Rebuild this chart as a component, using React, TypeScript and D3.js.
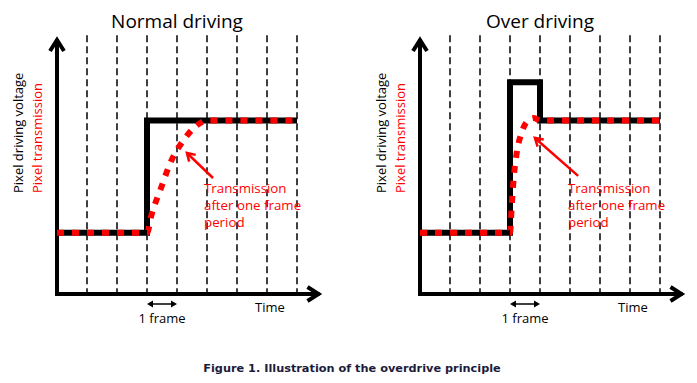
import React from 'react';
import * as d3 from 'd3';

type Pt = [number, number];

// gridline frame positions
const frameLines = [1, 2, 3, 4, 5, 6, 7, 8];
// voltage / transmission series (x in frames, y in % of axis height)
const normalVoltage: Pt[] = [[0, 24], [3, 24], [3, 68], [8, 68]];
const normalTransmission: Pt[] = [[0, 24], [3, 24], [3.15, 31], [3.45, 41], [3.8, 52], [4.2, 60], [4.6, 65.5], [5, 68], [8, 68]];
const overVoltage: Pt[] = [[0, 24], [3, 24], [3, 83], [4, 83], [4, 68], [8, 68]];
const overTransmission: Pt[] = [[0, 24], [3, 24], [3.06, 35], [3.12, 45], [3.22, 55], [3.38, 63], [3.6, 68], [3.8, 69], [4, 68], [8, 68]];
// annotation arrows [start, end]
const normalArrow: Pt[] = [[5.2, 45.5], [4.33, 55.3]];
const overArrow: Pt[] = [[5.27, 46.3], [3.83, 61.2]];
const annotationLines = ['Transmission', 'after one frame', 'period'];
const titles = ['Normal driving', 'Over driving'];
const yLabelBlack = 'Pixel driving voltage';
const yLabelRed = 'Pixel transmission';
const caption = 'Figure 1. Illustration of the overdrive principle';

const FONT = '"Open Sans", sans-serif';
const RED = '#ff0000';

interface PanelProps {
  axisX: number;
  title: string;
  voltage: Pt[];
  transmission: Pt[];
  arrow: Pt[];
  textX: number;
}

function Panel({ axisX, title, voltage, transmission, arrow, textX }: PanelProps) {
  const x = d3.scaleLinear().domain([0, 8.75]).range([axisX, axisX + 262.5]);
  const y = d3.scaleLinear().domain([0, 100]).range([294, 39]);
  const vLine = d3.line<Pt>().x(d => x(d[0])).y(d => y(d[1]));
  const tLine = d3.line<Pt>().x(d => x(d[0])).y(d => y(d[1])).curve(d3.curveMonotoneX);

  const [s, e] = arrow;
  const sx = x(s[0]), sy = y(s[1]), ex = x(e[0]), ey = y(e[1]);
  const ang = Math.atan2(ey - sy, ex - sx);
  const ah = 9, aw = 0.55;
  const a1: Pt = [ex - ah * Math.cos(ang - aw), ey - ah * Math.sin(ang - aw)];
  const a2: Pt = [ex - ah * Math.cos(ang + aw), ey - ah * Math.sin(ang + aw)];

  const x0 = x(0), y0 = y(0);
  const yTop = y(100), xEnd = x(8.75);
  const fy = y0 + 10;
  const f0 = x(3), f1 = x(4);

  return (
    <g>
      <text x={x(4)} y={28} textAnchor="middle" fontFamily={FONT} fontSize={19} fill="#000">{title}</text>
      {frameLines.map(f => (
        <line key={f} x1={x(f)} x2={x(f)} y1={y(101.5)} y2={y0} stroke="#000" strokeWidth={1.5} strokeDasharray="7 4" />
      ))}
      {/* axes */}
      <line x1={x0} x2={x0} y1={y0 + 2} y2={yTop} stroke="#000" strokeWidth={4} />
      <polyline points={`${x0 - 7},${yTop + 12} ${x0},${yTop + 1} ${x0 + 7},${yTop + 12}`} fill="none" stroke="#000" strokeWidth={4} />
      <line x1={x0 - 2} x2={xEnd} y1={y0} y2={y0} stroke="#000" strokeWidth={4} />
      <polyline points={`${xEnd - 12},${y0 - 7} ${xEnd - 1},${y0} ${xEnd - 12},${y0 + 7}`} fill="none" stroke="#000" strokeWidth={4} />
      {/* y labels */}
      <text transform={`translate(${x0 - 34},193) rotate(-90)`} fontFamily={FONT} fontSize={13} fill="#000">{yLabelBlack}</text>
      <text transform={`translate(${x0 - 15},193) rotate(-90)`} fontFamily={FONT} fontSize={13} fill={RED}>{yLabelRed}</text>
      {/* series */}
      <path d={vLine(voltage) || ''} fill="none" stroke="#000" strokeWidth={6} strokeLinejoin="miter" />
      <path d={tLine(transmission) || ''} fill="none" stroke={RED} strokeWidth={6} strokeDasharray="7 8" />
      {/* annotation arrow */}
      <line x1={sx} y1={sy} x2={ex} y2={ey} stroke={RED} strokeWidth={2.5} />
      <polyline points={`${a1[0]},${a1[1]} ${ex},${ey} ${a2[0]},${a2[1]}`} fill="none" stroke={RED} strokeWidth={2.5} />
      {annotationLines.map((t, i) => (
        <text key={t} x={textX} y={193 + i * 17} fontFamily={FONT} fontSize={13.3} fill={RED}>{t}</text>
      ))}
      {/* 1 frame marker */}
      <line x1={f0 + 4} x2={f1 - 4} y1={fy} y2={fy} stroke="#000" strokeWidth={1.5} />
      <path d={`M${f0},${fy} L${f0 + 6},${fy - 3.5} L${f0 + 6},${fy + 3.5} Z`} fill="#000" />
      <path d={`M${f1},${fy} L${f1 - 6},${fy - 3.5} L${f1 - 6},${fy + 3.5} Z`} fill="#000" />
      <text x={(f0 + f1) / 2} y={323} textAnchor="middle" fontFamily={FONT} fontSize={13} fill="#000">1 frame</text>
      <text x={x(6.6)} y={312} fontFamily={FONT} fontSize={13} fill="#000">Time</text>
    </g>
  );
}

export default function App() {
  return (
    <svg width={697} height={383} style={{ position: 'absolute', left: 0, top: 0, background: '#fff' }}>
      <rect width={697} height={383} fill="#fff" />
      <Panel axisX={57} title={titles[0]} voltage={normalVoltage} transmission={normalTransmission} arrow={normalArrow} textX={204} />
      <Panel axisX={420} title={titles[1]} voltage={overVoltage} transmission={overTransmission} arrow={overArrow} textX={568} />
      <text x={352} y={372} textAnchor="middle" fontFamily="DejaVu Sans, Verdana, sans-serif" fontWeight="bold" fontSize={11.3} fill="#1c1c3a">{caption}</text>
    </svg>
  );
}
